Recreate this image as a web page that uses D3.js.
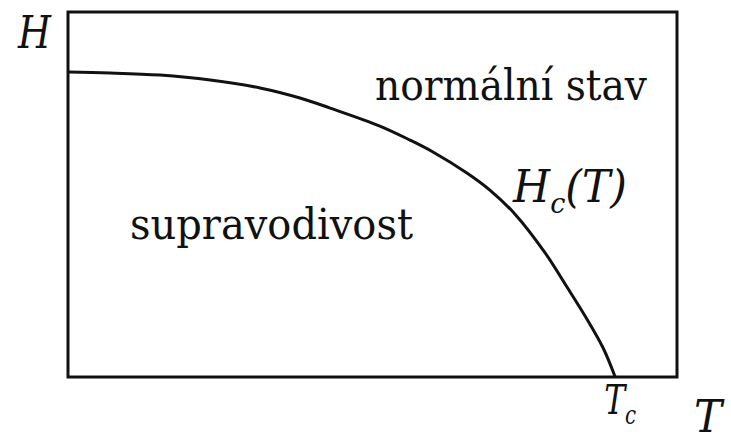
<!DOCTYPE html>
<html>
<head>
<meta charset="utf-8">
<script src="https://cdn.jsdelivr.net/npm/d3@7/dist/d3.min.js"></script>
<style>
  html, body { margin: 0; padding: 0; background: #fff; }
  svg { display: block; }
</style>
</head>
<body>
<svg id="chart" width="731" height="438"></svg>
<script>
// Critical field curve Hc(T), T in units of Tc, H in units of Hc(0)
const tempValues = [0, 0.077, 0.168, 0.26, 0.351, 0.424, 0.479, 0.57, 0.625, 0.667, 0.729, 0.771, 0.817, 0.872, 0.912, 0.945, 0.978, 1];
const fieldValues = [1, 0.997, 0.99, 0.974, 0.948, 0.915, 0.882, 0.823, 0.777, 0.738, 0.669, 0.613, 0.534, 0.407, 0.295, 0.2, 0.095, 0];
const tempDomain = [0, 1.113];
const fieldDomain = [0, 1.197];
const regionLabels = ["normální stav", "supravodivost"];

const serif = "DejaVu Serif, serif";
const ink = "#111";

const svg = d3.select("#chart");
const plotLeft = 68, plotRight = 677, plotTop = 12, plotBottom = 377;

const x = d3.scaleLinear().domain(tempDomain).range([plotLeft, plotRight]);
const y = d3.scaleLinear().domain(fieldDomain).range([plotBottom, plotTop]);

const curve = tempValues.map((t, i) => ({ t, h: fieldValues[i] }));

// frame
svg.append("rect")
  .attr("x", x(0)).attr("y", y(fieldDomain[1]))
  .attr("width", x(tempDomain[1]) - x(0))
  .attr("height", y(0) - y(fieldDomain[1]))
  .attr("fill", "none").attr("stroke", ink).attr("stroke-width", 3);

// phase boundary
const line = d3.line().x(d => x(d.t)).y(d => y(d.h)).curve(d3.curveCatmullRom.alpha(0.5));
svg.append("path").datum(curve)
  .attr("d", line)
  .attr("fill", "none").attr("stroke", ink).attr("stroke-width", 3);

// text helper: serif face, squeezed to a given width
function label(px, py, size, italic, width) {
  return svg.append("text")
    .attr("x", px).attr("y", py)
    .style("font-family", serif)
    .attr("font-size", size)
    .attr("font-style", italic ? "italic" : "normal")
    .attr("fill", ink)
    .attr("textLength", width)
    .attr("lengthAdjust", "spacingAndGlyphs");
}

// axis letters
label(18, 48, 45, true, 33).text("H");
label(694, 432, 45, true, 28).text("T");

// Tc mark
const tc = label(x(1) - 11, 414, 41, true, 32);
tc.append("tspan").text("T");
tc.append("tspan").attr("dy", 10).attr("font-size", 26).text("c");

// region labels
label(375, 100, 42, false, 272).text(regionLabels[0]);
label(130, 239, 42, false, 283).text(regionLabels[1]);

// curve label
const hc = label(513, 202, 44, true, 114);
hc.append("tspan").text("H");
hc.append("tspan").attr("dy", 11).attr("font-size", 28).text("c");
hc.append("tspan").attr("dy", -11).text("(T)");
</script>
</body>
</html>
